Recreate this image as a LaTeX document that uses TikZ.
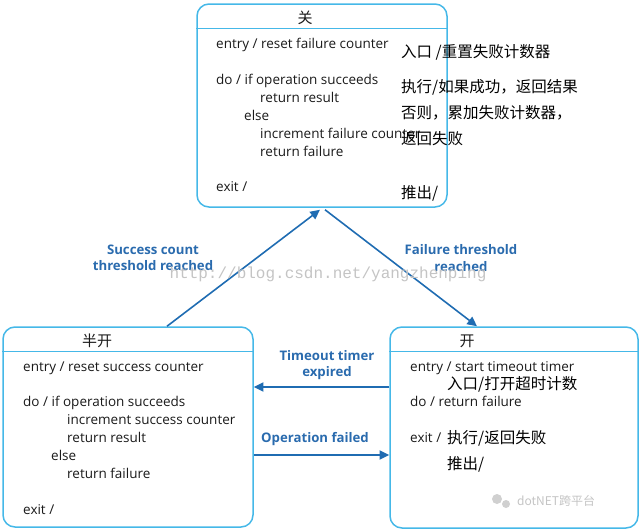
\documentclass[tikz,border=0pt]{standalone}
\usepackage{fontspec}
\setmainfont{Open Sans}
\newfontfamily\cjk{Noto Sans CJK SC}
\newfontfamily\urlfont{Liberation Mono}
\usetikzlibrary{arrows.meta,positioning,calc}
\definecolor{stateline}{HTML}{45B8E8}
\definecolor{flow}{HTML}{1F6CB2}
\definecolor{flowtext}{HTML}{2A6BAE}
\definecolor{body}{HTML}{1A1A1A}
\definecolor{wmark}{HTML}{C4C4C4}
\tikzset{
  state/.style={draw=stateline, line width=1.5pt, rounded corners=12pt,
                inner sep=0pt},
  header/.style={draw=stateline, line width=1.5pt},
  title/.style={font=\cjk\fontsize{15}{17}\selectfont, text=body, inner sep=0pt},
  act/.style={anchor=base west, inner sep=0pt, text=body,
              font=\fontsize{13.5}{16}\selectfont},
  cjkact/.style={anchor=base west, inner sep=0pt, text=black,
                 font=\cjk\fontsize{15.5}{18}\selectfont},
  flowarrow/.style={-{Triangle[length=3.4mm,width=3.2mm]}, draw=flow,
                    line width=1.6pt},
  flowlabel/.style={font=\bfseries\fontsize{13.2}{16.5}\selectfont, text=flowtext,
                    align=center, inner sep=0pt}
}

\begin{document}
\begin{tikzpicture}[x=1pt,y=1pt]
  \useasboundingbox (0,0) rectangle (640,-530);
  % states
  \node[state, minimum width=250pt, minimum height=203pt] (closed) at (322,-105.5) {};
  \node[state, minimum width=250pt, minimum height=200pt] (halfopen) at (128,-427) {};
  \node[state, minimum width=248pt, minimum height=201pt] (open) at (514,-427.5) {};
  \foreach \s in {closed,halfopen,open} {
    \draw[header] ($(\s.north west)+(0,-25)$) -- ($(\s.north east)+(0,-25)$);
  }
  \node[title] (closedname) at (305,-18) {关};
  \node[title] (halfname) at (97,-341) {半开};
  \node[title] (openname) at (467,-341) {开};

  % closed: actions
  \foreach \i/\ax/\ay/\txt in {1/216/48/{entry / reset failure counter},
      2/216/84/{do / if operation succeeds}, 3/260/102/{return result},
      4/244/120/{else}, 5/260/138/{increment failure counter},
      6/260/156/{return failure}, 7/216/191/{exit /}}
    \node[act] (ca\i) at (\ax,-\ay) {\txt};
  \foreach \i/\ay/\txt in {1/57/{入口 /重置失败计数器}, 2/92/{执行/如果成功，返回结果},
      3/118/{否则，累加失败计数器，}, 4/144/{返回失败}, 5/198/{推出/}}
    \node[cjkact] (cc\i) at (401,-\ay) {\txt};

  % half open: actions
  \foreach \i/\ax/\ay/\txt in {1/23/371/{entry / reset success counter},
      2/23/406/{do / if operation succeeds}, 3/67/424/{increment success counter},
      4/67/442/{return result}, 5/51/460/{else}, 6/67/478/{return failure},
      7/23/514/{exit /}}
    \node[act] (ha\i) at (\ax,-\ay) {\txt};

  % open: actions
  \foreach \i/\ax/\ay/\txt in {1/410/371/{entry / start timeout timer},
      2/410/406/{do / return failure}, 3/410/442/{exit /}}
    \node[act] (oa\i) at (\ax,-\ay) {\txt};
  \foreach \i/\ay/\txt in {1/389/{入口/打开超时计数}, 2/443/{执行/返回失败}, 3/469/{推出/}}
    \node[cjkact] (oc\i) at (447,-\ay) {\txt};

  % transitions
  \draw[flowarrow] ($(halfopen.north)+(39,0)$) -- ($(closed.south)+(-2,-2)$);
  \draw[flowarrow] ($(closed.south)+(3,-2)$) -- ($(open.north)+(-37,0)$);
  \draw[flowarrow] (open.west |- 0,-387) -- (halfopen.east |- 0,-387);
  \draw[flowarrow] (halfopen.east |- 0,-455) -- (open.west |- 0,-455);
  \node[flowlabel] (succlabel) at (153,-258) {Success count\\threshold reached};
  \node[flowlabel] (faillabel) at (461,-258) {Failure threshold\\reached};
  \node[flowlabel] (timelabel) at (327,-365) {Timeout timer\\expired};
  \node[flowlabel] (oplabel) at (315,-439) {Operation failed};

  % watermarks
  \node[font=\urlfont\fontsize{16}{18}\selectfont, text=wmark, inner sep=0pt]
    (url) at (328,-274) {http://blog.csdn.net/yangzhenping};
  \fill[wmark!80] (497,-499) circle (5);
  \fill[wmark!80] (506,-504) circle (4);
  \node[font=\cjk\fontsize{12}{14}\selectfont, text=wmark, anchor=west, inner sep=0pt]
    (wechat) at (517,-501) {dotNET跨平台};
\end{tikzpicture}
\end{document}
